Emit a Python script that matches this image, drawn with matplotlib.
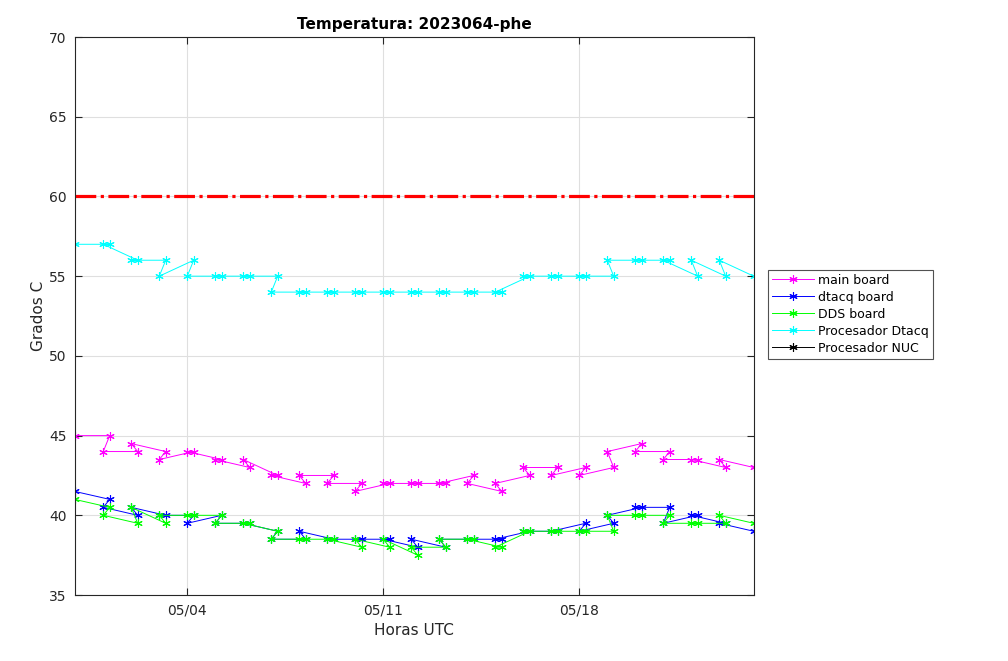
import matplotlib
matplotlib.use("Agg")
import matplotlib.pyplot as plt
import matplotlib.dates as mdates
import pandas as pd
import numpy as np

# Sample times (UTC) in the order the samples appear in the log
times = [
    "2023-04-30 00:00",
    "2023-05-01 06:00", "2023-05-01 00:30",
    "2023-05-02 06:00", "2023-05-02 00:30",
    "2023-05-03 06:00", "2023-05-03 00:30",
    "2023-05-04 06:00", "2023-05-04 00:30",
    "2023-05-05 06:00", "2023-05-05 00:30",
    "2023-05-06 06:00", "2023-05-06 00:30",
    "2023-05-07 06:00", "2023-05-07 00:30",
    "2023-05-08 06:00", "2023-05-08 00:30",
    "2023-05-09 06:00", "2023-05-09 00:30",
    "2023-05-10 06:00", "2023-05-10 00:30",
    "2023-05-11 06:00", "2023-05-11 00:30",
    "2023-05-12 06:00", "2023-05-12 00:30",
    "2023-05-13 06:00", "2023-05-13 00:30",
    "2023-05-14 06:00", "2023-05-14 00:30",
    "2023-05-15 06:00", "2023-05-15 00:30",
    "2023-05-16 06:00", "2023-05-16 00:30",
    "2023-05-17 06:00", "2023-05-17 00:30",
    "2023-05-18 06:00", "2023-05-18 00:30",
    "2023-05-19 06:00", "2023-05-19 00:30",
    "2023-05-20 06:00", "2023-05-20 00:30",
    "2023-05-21 06:00", "2023-05-21 00:30",
    "2023-05-22 06:00", "2023-05-22 00:30",
    "2023-05-23 06:00", "2023-05-23 00:30",
    "2023-05-24 06:00",
]

main_board = [45, 45, 44, 44, 44.5, 44, 43.5, 44, 44, 43.5, 43.5, 43, 43.5, 42.5, 42.5,
              42, 42.5, 42.5, 42, 42, 41.5, 42, 42, 42, 42, 42, 42, 42.5, 42, 41.5, 42,
              42.5, 43, 43, 42.5, 43, 42.5, 43, 44, 44.5, 44, 44, 43.5, 43.5, 43.5, 43,
              43.5, 43]

dtacq_board = [41.5, 41, 40.5, 40, 40.5, 40, 40, 40, 39.5, 40, 39.5, 39.5, 39.5, 39, 38.5,
               38.5, 39, 38.5, 38.5, 38.5, 38.5, 38.5, 38.5, 38, 38.5, 38, 38.5, 38.5, 38.5,
               38.5, 38.5, 39, 39, 39, 39, 39.5, 39, 39.5, 40, 40.5, 40.5, 40.5, 39.5, 40,
               40, 39.5, 39.5, 39]

dds_board = [41, 40.5, 40, 39.5, 40.5, 39.5, 40, 40, 40, 40, 39.5, 39.5, 39.5, 39, 38.5,
             38.5, 38.5, 38.5, 38.5, 38, 38.5, 38, 38.5, 37.5, 38, 38, 38.5, 38.5, 38.5,
             38, 38, 39, 39, 39, 39, 39, 39, 39, 40, 40, 40, 40, 39.5, 39.5, 39.5, 39.5,
             40, 39.5]

proc_dtacq = [57, 57, 57, 56, 56, 56, 55, 56, 55, 55, 55, 55, 55, 55, 54,
              54, 54, 54, 54, 54, 54, 54, 54, 54, 54, 54, 54, 54, 54, 54, 54,
              55, 55, 55, 55, 55, 55, 55,
              56, 56, 56, 56, 56,
              55, 56, 55, 56, 55]

proc_nuc = [np.nan] * len(times)

limit_value = 60
x_ticks = ["2023-05-04", "2023-05-11", "2023-05-18"]

t = pd.to_datetime(times)

plt.rcParams['font.family'] = ['DejaVu Sans']
fig = plt.figure(figsize=(10.08, 6.61), dpi=100)
ax = fig.add_axes([0.0741, 0.0998, 0.6736, 0.8442])

ast = (6, 2, 0)
ms = 6
lw = 0.7
series = [
    (main_board, '#FF00FF', 'main board'),
    (dtacq_board, '#0000FF', 'dtacq board'),
    (dds_board, '#00FF00', 'DDS board'),
    (proc_dtacq, '#00FFFF', 'Procesador Dtacq'),
    (proc_nuc, '#000000', 'Procesador NUC'),
]
handles = []
for vals, col, lab in series:
    h, = ax.plot(t, vals, color=col, lw=lw, marker=ast, markersize=ms,
                 markeredgewidth=0.8, label=lab)
    handles.append(h)

ax.plot([t.min(), t.max()], [limit_value, limit_value], color='#FF0000', lw=2.3,
        dashes=[6.5, 1.4, 1.0, 1.4])

ax.set_xlim(t.min(), t.max())
ax.set_ylim(35, 70)
ax.set_yticks(np.arange(35, 71, 5))
ax.set_xticks(pd.to_datetime(x_ticks))
ax.xaxis.set_major_formatter(mdates.DateFormatter('%m/%d'))

ax.grid(True, color='#dfdfdf', lw=0.8)
ax.set_axisbelow(True)
for s in ax.spines.values():
    s.set_color('#262626')
    s.set_linewidth(0.8)
ax.tick_params(direction='in', length=5, width=0.8, colors='#262626',
               labelsize=10, top=True, right=True, pad=6)

ax.set_title('Temperatura: 2023064-phe', fontsize=11, fontweight='bold', pad=6)
ax.set_xlabel('Horas UTC', fontsize=11, color='#262626', labelpad=4)
ax.set_ylabel('Grados C', fontsize=11, color='#262626', labelpad=2)

leg = fig.legend(handles=handles, loc='upper left',
                 bbox_to_anchor=(768 / 1008, 1 - 270 / 661),
                 fontsize=9, frameon=True, fancybox=False, edgecolor='#262626',
                 handlelength=3.4, handletextpad=0.3, borderpad=0.3,
                 labelspacing=0.32, borderaxespad=0)
leg.get_frame().set_linewidth(0.8)

fig.savefig('out.png', dpi=100)
